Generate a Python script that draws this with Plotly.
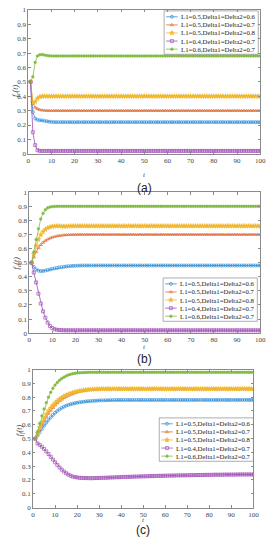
import plotly.graph_objects as go

t = list(range(1, 101))

names = ["L1=0.5,Delta1=Delta2=0.6", "L1=0.5,Delta1=Delta2=0.7",
         "L1=0.5,Delta1=Delta2=0.8", "L1=0.4,Delta1=Delta2=0.7",
         "L1=0.6,Delta1=Delta2=0.7"]

# ---------- panel (a) ----------
a_blue = [0.500, 0.290, 0.245, 0.236, 0.233, 0.232, 0.229, 0.226, 0.223, 0.221,
          0.22, 0.22, 0.22, 0.22, 0.22, 0.22, 0.22, 0.22, 0.22, 0.22,
          0.22, 0.22, 0.22, 0.22, 0.22, 0.22, 0.22, 0.22, 0.22, 0.22,
          0.22, 0.22, 0.22, 0.22, 0.22, 0.22, 0.22, 0.22, 0.22, 0.22,
          0.22, 0.22, 0.22, 0.22, 0.22, 0.22, 0.22, 0.22, 0.22, 0.22,
          0.22, 0.22, 0.22, 0.22, 0.22, 0.22, 0.22, 0.22, 0.22, 0.22,
          0.22, 0.22, 0.22, 0.22, 0.22, 0.22, 0.22, 0.22, 0.22, 0.22,
          0.22, 0.22, 0.22, 0.22, 0.22, 0.22, 0.22, 0.22, 0.22, 0.22,
          0.22, 0.22, 0.22, 0.22, 0.22, 0.22, 0.22, 0.22, 0.22, 0.22,
          0.22, 0.22, 0.22, 0.22, 0.22, 0.22, 0.22, 0.22, 0.22, 0.22]
a_orange = [0.500, 0.350, 0.322, 0.312, 0.306, 0.303, 0.301, 0.300, 0.300, 0.300,
            0.30, 0.30, 0.30, 0.30, 0.30, 0.30, 0.30, 0.30, 0.30, 0.30,
            0.30, 0.30, 0.30, 0.30, 0.30, 0.30, 0.30, 0.30, 0.30, 0.30,
            0.30, 0.30, 0.30, 0.30, 0.30, 0.30, 0.30, 0.30, 0.30, 0.30,
            0.30, 0.30, 0.30, 0.30, 0.30, 0.30, 0.30, 0.30, 0.30, 0.30,
            0.30, 0.30, 0.30, 0.30, 0.30, 0.30, 0.30, 0.30, 0.30, 0.30,
            0.30, 0.30, 0.30, 0.30, 0.30, 0.30, 0.30, 0.30, 0.30, 0.30,
            0.30, 0.30, 0.30, 0.30, 0.30, 0.30, 0.30, 0.30, 0.30, 0.30,
            0.30, 0.30, 0.30, 0.30, 0.30, 0.30, 0.30, 0.30, 0.30, 0.30,
            0.30, 0.30, 0.30, 0.30, 0.30, 0.30, 0.30, 0.30, 0.30, 0.30]
a_yellow = [0.500, 0.355, 0.362, 0.385, 0.396, 0.400, 0.400, 0.400, 0.400, 0.400,
            0.40, 0.40, 0.40, 0.40, 0.40, 0.40, 0.40, 0.40, 0.40, 0.40,
            0.40, 0.40, 0.40, 0.40, 0.40, 0.40, 0.40, 0.40, 0.40, 0.40,
            0.40, 0.40, 0.40, 0.40, 0.40, 0.40, 0.40, 0.40, 0.40, 0.40,
            0.40, 0.40, 0.40, 0.40, 0.40, 0.40, 0.40, 0.40, 0.40, 0.40,
            0.40, 0.40, 0.40, 0.40, 0.40, 0.40, 0.40, 0.40, 0.40, 0.40,
            0.40, 0.40, 0.40, 0.40, 0.40, 0.40, 0.40, 0.40, 0.40, 0.40,
            0.40, 0.40, 0.40, 0.40, 0.40, 0.40, 0.40, 0.40, 0.40, 0.40,
            0.40, 0.40, 0.40, 0.40, 0.40, 0.40, 0.40, 0.40, 0.40, 0.40,
            0.40, 0.40, 0.40, 0.40, 0.40, 0.40, 0.40, 0.40, 0.40, 0.40]
a_purple = [0.500, 0.150, 0.060, 0.025, 0.020, 0.020, 0.020, 0.020, 0.020, 0.020,
            0.02, 0.02, 0.02, 0.02, 0.02, 0.02, 0.02, 0.02, 0.02, 0.02,
            0.02, 0.02, 0.02, 0.02, 0.02, 0.02, 0.02, 0.02, 0.02, 0.02,
            0.02, 0.02, 0.02, 0.02, 0.02, 0.02, 0.02, 0.02, 0.02, 0.02,
            0.02, 0.02, 0.02, 0.02, 0.02, 0.02, 0.02, 0.02, 0.02, 0.02,
            0.02, 0.02, 0.02, 0.02, 0.02, 0.02, 0.02, 0.02, 0.02, 0.02,
            0.02, 0.02, 0.02, 0.02, 0.02, 0.02, 0.02, 0.02, 0.02, 0.02,
            0.02, 0.02, 0.02, 0.02, 0.02, 0.02, 0.02, 0.02, 0.02, 0.02,
            0.02, 0.02, 0.02, 0.02, 0.02, 0.02, 0.02, 0.02, 0.02, 0.02,
            0.02, 0.02, 0.02, 0.02, 0.02, 0.02, 0.02, 0.02, 0.02, 0.02]
a_green = [0.500, 0.535, 0.635, 0.680, 0.688, 0.690, 0.686, 0.683, 0.681, 0.680,
           0.68, 0.68, 0.68, 0.68, 0.68, 0.68, 0.68, 0.68, 0.68, 0.68,
           0.68, 0.68, 0.68, 0.68, 0.68, 0.68, 0.68, 0.68, 0.68, 0.68,
           0.68, 0.68, 0.68, 0.68, 0.68, 0.68, 0.68, 0.68, 0.68, 0.68,
           0.68, 0.68, 0.68, 0.68, 0.68, 0.68, 0.68, 0.68, 0.68, 0.68,
           0.68, 0.68, 0.68, 0.68, 0.68, 0.68, 0.68, 0.68, 0.68, 0.68,
           0.68, 0.68, 0.68, 0.68, 0.68, 0.68, 0.68, 0.68, 0.68, 0.68,
           0.68, 0.68, 0.68, 0.68, 0.68, 0.68, 0.68, 0.68, 0.68, 0.68,
           0.68, 0.68, 0.68, 0.68, 0.68, 0.68, 0.68, 0.68, 0.68, 0.68,
           0.68, 0.68, 0.68, 0.68, 0.68, 0.68, 0.68, 0.68, 0.68, 0.68]

# ---------- panel (b) ----------
b_blue = [0.500, 0.470, 0.452, 0.443, 0.440, 0.441, 0.444, 0.448, 0.452, 0.456,
          0.460, 0.463, 0.466, 0.469, 0.471, 0.473, 0.475, 0.476, 0.477, 0.478,
          0.479, 0.479, 0.48, 0.48, 0.48, 0.48, 0.48, 0.48, 0.48, 0.48,
          0.48, 0.48, 0.48, 0.48, 0.48, 0.48, 0.48, 0.48, 0.48, 0.48,
          0.48, 0.48, 0.48, 0.48, 0.48, 0.48, 0.48, 0.48, 0.48, 0.48,
          0.48, 0.48, 0.48, 0.48, 0.48, 0.48, 0.48, 0.48, 0.48, 0.48,
          0.48, 0.48, 0.48, 0.48, 0.48, 0.48, 0.48, 0.48, 0.48, 0.48,
          0.48, 0.48, 0.48, 0.48, 0.48, 0.48, 0.48, 0.48, 0.48, 0.48,
          0.48, 0.48, 0.48, 0.48, 0.48, 0.48, 0.48, 0.48, 0.48, 0.48,
          0.48, 0.48, 0.48, 0.48, 0.48, 0.48, 0.48, 0.48, 0.48, 0.48]
b_orange = [0.500, 0.540, 0.577, 0.605, 0.627, 0.643, 0.656, 0.666, 0.674, 0.680,
            0.685, 0.689, 0.692, 0.694, 0.696, 0.697, 0.698, 0.699, 0.699, 0.700,
            0.70, 0.70, 0.70, 0.70, 0.70, 0.70, 0.70, 0.70, 0.70, 0.70,
            0.70, 0.70, 0.70, 0.70, 0.70, 0.70, 0.70, 0.70, 0.70, 0.70,
            0.70, 0.70, 0.70, 0.70, 0.70, 0.70, 0.70, 0.70, 0.70, 0.70,
            0.70, 0.70, 0.70, 0.70, 0.70, 0.70, 0.70, 0.70, 0.70, 0.70,
            0.70, 0.70, 0.70, 0.70, 0.70, 0.70, 0.70, 0.70, 0.70, 0.70,
            0.70, 0.70, 0.70, 0.70, 0.70, 0.70, 0.70, 0.70, 0.70, 0.70,
            0.70, 0.70, 0.70, 0.70, 0.70, 0.70, 0.70, 0.70, 0.70, 0.70,
            0.70, 0.70, 0.70, 0.70, 0.70, 0.70, 0.70, 0.70, 0.70, 0.70]
b_yellow = [0.500, 0.560, 0.620, 0.665, 0.697, 0.720, 0.736, 0.746, 0.753, 0.757,
            0.759, 0.760, 0.760, 0.759, 0.758, 0.758, 0.759, 0.760, 0.76, 0.76,
            0.76, 0.76, 0.76, 0.76, 0.76, 0.76, 0.76, 0.76, 0.76, 0.76,
            0.76, 0.76, 0.76, 0.76, 0.76, 0.76, 0.76, 0.76, 0.76, 0.76,
            0.76, 0.76, 0.76, 0.76, 0.76, 0.76, 0.76, 0.76, 0.76, 0.76,
            0.76, 0.76, 0.76, 0.76, 0.76, 0.76, 0.76, 0.76, 0.76, 0.76,
            0.76, 0.76, 0.76, 0.76, 0.76, 0.76, 0.76, 0.76, 0.76, 0.76,
            0.76, 0.76, 0.76, 0.76, 0.76, 0.76, 0.76, 0.76, 0.76, 0.76,
            0.76, 0.76, 0.76, 0.76, 0.76, 0.76, 0.76, 0.76, 0.76, 0.76,
            0.76, 0.76, 0.76, 0.76, 0.76, 0.76, 0.76, 0.76, 0.76, 0.76]
b_purple = [0.500, 0.430, 0.360, 0.280, 0.210, 0.155, 0.110, 0.075, 0.050, 0.036,
            0.028, 0.024, 0.022, 0.021, 0.020, 0.02, 0.02, 0.02, 0.02, 0.02,
            0.02, 0.02, 0.02, 0.02, 0.02, 0.02, 0.02, 0.02, 0.02, 0.02,
            0.02, 0.02, 0.02, 0.02, 0.02, 0.02, 0.02, 0.02, 0.02, 0.02,
            0.02, 0.02, 0.02, 0.02, 0.02, 0.02, 0.02, 0.02, 0.02, 0.02,
            0.02, 0.02, 0.02, 0.02, 0.02, 0.02, 0.02, 0.02, 0.02, 0.02,
            0.02, 0.02, 0.02, 0.02, 0.02, 0.02, 0.02, 0.02, 0.02, 0.02,
            0.02, 0.02, 0.02, 0.02, 0.02, 0.02, 0.02, 0.02, 0.02, 0.02,
            0.02, 0.02, 0.02, 0.02, 0.02, 0.02, 0.02, 0.02, 0.02, 0.02,
            0.02, 0.02, 0.02, 0.02, 0.02, 0.02, 0.02, 0.02, 0.02, 0.02]
b_green = [0.500, 0.575, 0.665, 0.740, 0.810, 0.850, 0.875, 0.889, 0.895, 0.898,
           0.899, 0.90, 0.90, 0.90, 0.90, 0.90, 0.90, 0.90, 0.90, 0.90,
           0.90, 0.90, 0.90, 0.90, 0.90, 0.90, 0.90, 0.90, 0.90, 0.90,
           0.90, 0.90, 0.90, 0.90, 0.90, 0.90, 0.90, 0.90, 0.90, 0.90,
           0.90, 0.90, 0.90, 0.90, 0.90, 0.90, 0.90, 0.90, 0.90, 0.90,
           0.90, 0.90, 0.90, 0.90, 0.90, 0.90, 0.90, 0.90, 0.90, 0.90,
           0.90, 0.90, 0.90, 0.90, 0.90, 0.90, 0.90, 0.90, 0.90, 0.90,
           0.90, 0.90, 0.90, 0.90, 0.90, 0.90, 0.90, 0.90, 0.90, 0.90,
           0.90, 0.90, 0.90, 0.90, 0.90, 0.90, 0.90, 0.90, 0.90, 0.90,
           0.90, 0.90, 0.90, 0.90, 0.90, 0.90, 0.90, 0.90, 0.90, 0.90]

# ---------- panel (c) ----------
c_blue = [0.500, 0.520, 0.545, 0.570, 0.594, 0.615, 0.635, 0.654, 0.671, 0.687,
          0.700, 0.712, 0.722, 0.731, 0.738, 0.744, 0.749, 0.753, 0.757, 0.760,
          0.763, 0.765, 0.767, 0.769, 0.771, 0.772, 0.773, 0.774, 0.775, 0.776,
          0.777, 0.777, 0.778, 0.778, 0.779, 0.779, 0.779, 0.780, 0.78, 0.78,
          0.78, 0.78, 0.78, 0.78, 0.78, 0.78, 0.78, 0.78, 0.78, 0.78,
          0.78, 0.78, 0.78, 0.78, 0.78, 0.78, 0.78, 0.78, 0.78, 0.78,
          0.78, 0.78, 0.78, 0.78, 0.78, 0.78, 0.78, 0.78, 0.78, 0.78,
          0.78, 0.78, 0.78, 0.78, 0.78, 0.78, 0.78, 0.78, 0.78, 0.78,
          0.78, 0.78, 0.78, 0.78, 0.78, 0.78, 0.78, 0.78, 0.78, 0.78,
          0.78, 0.78, 0.78, 0.78, 0.78, 0.78, 0.78, 0.78, 0.78, 0.78]
c_orange = [0.500, 0.530, 0.565, 0.598, 0.628, 0.657, 0.682, 0.704, 0.724, 0.742,
            0.758, 0.772, 0.784, 0.795, 0.804, 0.812, 0.819, 0.825, 0.831, 0.836,
            0.840, 0.844, 0.847, 0.850, 0.852, 0.854, 0.855, 0.856, 0.857, 0.858,
            0.859, 0.859, 0.860, 0.86, 0.86, 0.86, 0.86, 0.86, 0.86, 0.86,
            0.86, 0.86, 0.86, 0.86, 0.86, 0.86, 0.86, 0.86, 0.86, 0.86,
            0.86, 0.86, 0.86, 0.86, 0.86, 0.86, 0.86, 0.86, 0.86, 0.86,
            0.86, 0.86, 0.86, 0.86, 0.86, 0.86, 0.86, 0.86, 0.86, 0.86,
            0.86, 0.86, 0.86, 0.86, 0.86, 0.86, 0.86, 0.86, 0.86, 0.86,
            0.86, 0.86, 0.86, 0.86, 0.86, 0.86, 0.86, 0.86, 0.86, 0.86,
            0.86, 0.86, 0.86, 0.86, 0.86, 0.86, 0.86, 0.86, 0.86, 0.86]
c_yellow = [0.500, 0.540, 0.580, 0.615, 0.647, 0.676, 0.701, 0.722, 0.741, 0.758,
            0.773, 0.786, 0.797, 0.807, 0.815, 0.822, 0.828, 0.833, 0.838, 0.842,
            0.845, 0.848, 0.851, 0.853, 0.855, 0.856, 0.857, 0.858, 0.859, 0.859,
            0.860, 0.86, 0.86, 0.86, 0.86, 0.86, 0.86, 0.86, 0.86, 0.86,
            0.86, 0.86, 0.86, 0.86, 0.86, 0.86, 0.86, 0.86, 0.86, 0.86,
            0.86, 0.86, 0.86, 0.86, 0.86, 0.86, 0.86, 0.86, 0.86, 0.86,
            0.86, 0.86, 0.86, 0.86, 0.86, 0.86, 0.86, 0.86, 0.86, 0.86,
            0.86, 0.86, 0.86, 0.86, 0.86, 0.86, 0.86, 0.86, 0.86, 0.86,
            0.86, 0.86, 0.86, 0.86, 0.86, 0.86, 0.86, 0.86, 0.86, 0.86,
            0.86, 0.86, 0.86, 0.86, 0.86, 0.86, 0.86, 0.86, 0.86, 0.86]
c_purple = [0.500, 0.465, 0.455, 0.441, 0.425, 0.407, 0.388, 0.368, 0.348, 0.328,
            0.309, 0.291, 0.275, 0.261, 0.249, 0.239, 0.231, 0.225, 0.221, 0.218,
            0.216, 0.215, 0.214, 0.214, 0.213, 0.213, 0.213, 0.214, 0.214, 0.215,
            0.215, 0.216, 0.216, 0.217, 0.218, 0.218, 0.219, 0.220, 0.220, 0.221,
            0.222, 0.222, 0.223, 0.223, 0.224, 0.224, 0.225, 0.225, 0.226, 0.226,
            0.227, 0.227, 0.228, 0.228, 0.229, 0.229, 0.230, 0.230, 0.230, 0.231,
            0.231, 0.232, 0.232, 0.232, 0.233, 0.233, 0.233, 0.234, 0.234, 0.234,
            0.235, 0.235, 0.235, 0.236, 0.236, 0.236, 0.236, 0.237, 0.237, 0.237,
            0.237, 0.238, 0.238, 0.238, 0.238, 0.238, 0.239, 0.239, 0.239, 0.239,
            0.239, 0.239, 0.240, 0.240, 0.240, 0.240, 0.240, 0.240, 0.240, 0.240]
c_green = [0.500, 0.550, 0.610, 0.665, 0.715, 0.760, 0.800, 0.835, 0.865, 0.888,
           0.907, 0.922, 0.935, 0.945, 0.954, 0.961, 0.966, 0.970, 0.973, 0.975,
           0.977, 0.978, 0.979, 0.979, 0.980, 0.98, 0.98, 0.98, 0.98, 0.98,
           0.98, 0.98, 0.98, 0.98, 0.98, 0.98, 0.98, 0.98, 0.98, 0.98,
           0.98, 0.98, 0.98, 0.98, 0.98, 0.98, 0.98, 0.98, 0.98, 0.98,
           0.98, 0.98, 0.98, 0.98, 0.98, 0.98, 0.98, 0.98, 0.98, 0.98,
           0.98, 0.98, 0.98, 0.98, 0.98, 0.98, 0.98, 0.98, 0.98, 0.98,
           0.98, 0.98, 0.98, 0.98, 0.98, 0.98, 0.98, 0.98, 0.98, 0.98,
           0.98, 0.98, 0.98, 0.98, 0.98, 0.98, 0.98, 0.98, 0.98, 0.98,
           0.98, 0.98, 0.98, 0.98, 0.98, 0.98, 0.98, 0.98, 0.98, 0.98]

panels = [
    [a_blue, a_orange, a_yellow, a_purple, a_green],
    [b_blue, b_orange, b_yellow, b_purple, b_green],
    [c_blue, c_orange, c_yellow, c_purple, c_green],
]
ylabels = ["<i>f<sub>c</sub>(t)</i>", "<i>f<sub>c</sub>(t)</i>", "<i>f<sub>f</sub>(t)</i>"]
panel_tags = ["(a)", "(b)", "(c)"]

colors = ["#2f8fd8", "#e0703c", "#f0b830", "#a050b8", "#84bb45"]
symbols = ["circle-open", "triangle-up-open", "star", "square-open", "circle"]
msizes = [3, 3, 3.5, 3, 2.5]

W, H = 273, 550
# plot-area pixel boxes (left, right, top, bottom)
boxes = [(27, 266, 6, 152), (28, 266, 191, 334), (32, 259, 371, 511)]
# legend boxes: (left, right, top)
legend_boxes = [(167, 264, 7), (166, 263, 278), (162, 259, 420)]
tlabel_y = [168, 348, 529]
tag_y = [179, 360, 542]
ylab_x = [8, 8, 11]

serif = "Liberation Serif"
axis_col = "#8a8a8a"

fig = go.Figure()
layout = dict(width=W, height=H, margin=dict(l=0, r=0, t=0, b=0),
              paper_bgcolor="white", plot_bgcolor="rgba(0,0,0,0)", showlegend=False,
              annotations=[], shapes=[])

for p in range(3):
    sfx = "" if p == 0 else str(p + 1)
    for k in range(5):
        fig.add_trace(go.Scatter(
            x=t, y=panels[p][k], name=names[k], mode="lines+markers",
            xaxis="x" + sfx, yaxis="y" + sfx,
            line=dict(color=colors[k], width=0.8),
            marker=dict(symbol=symbols[k], size=msizes[k], color=colors[k],
                        line=dict(width=0.7, color=colors[k])),
        ))
    l, r, tp, bt = boxes[p]
    ax = dict(showline=True, linecolor=axis_col, linewidth=0.8, mirror="ticks",
              ticks="inside", ticklen=2.5, tickcolor=axis_col, tickwidth=0.8,
              showgrid=False, zeroline=False,
              tickfont=dict(family=serif, size=7, color="#444"))
    layout["xaxis" + sfx] = dict(ax, domain=[l / W, r / W], range=[0, 100], dtick=10,
                                 anchor="y" + sfx)
    layout["yaxis" + sfx] = dict(ax, domain=[1 - bt / H, 1 - tp / H], range=[0, 1],
                                 dtick=0.1, anchor="x" + sfx)
    layout["annotations"].append(dict(
        text="<i>t</i>", x=(l + r) / 2 / W, y=1 - tlabel_y[p] / H, xref="paper", yref="paper",
        showarrow=False, borderpad=0, font=dict(family=serif, size=7, color="#444")))
    layout["annotations"].append(dict(
        text=ylabels[p], x=ylab_x[p] / W, y=1 - (tp + bt) / 2 / H, xref="paper", yref="paper",
        showarrow=False, textangle=-90, font=dict(family=serif, size=8, color="#444")))
    layout["annotations"].append(dict(
        text=panel_tags[p], x=(l + r) / 2 / W, y=1 - tag_y[p] / H, xref="paper", yref="paper",
        showarrow=False, borderpad=0, font=dict(family="Liberation Sans", size=12, color="#222")))

    # hand-built compact legend (MATLAB style)
    ll, lr, lt = legend_boxes[p]
    lb = lt + 44
    layout["shapes"].append(dict(type="rect", xref="paper", yref="paper",
                                 x0=ll / W, x1=lr / W, y0=1 - lb / H, y1=1 - lt / H,
                                 line=dict(color=axis_col, width=0.7), fillcolor="rgba(0,0,0,0)"))
    for k in range(5):
        ry = lt + 6 + k * 8.2
        fig.add_trace(go.Scatter(
            x=[ll + 2, ll + 14], y=[ry, ry], mode="lines", xaxis="x4", yaxis="y4",
            line=dict(color=colors[k], width=0.8), hoverinfo="skip"))
        fig.add_trace(go.Scatter(
            x=[ll + 8], y=[ry], mode="markers", xaxis="x4", yaxis="y4",
            marker=dict(symbol=symbols[k], size=msizes[k], color=colors[k],
                        line=dict(width=0.7, color=colors[k])), hoverinfo="skip"))
        layout["annotations"].append(dict(
            text=names[k], x=(ll + 16) / W, y=1 - ry / H, xref="paper", yref="paper",
            xanchor="left", yanchor="middle", showarrow=False, borderpad=0,
            font=dict(family=serif, size=6.8, color="#222")))

# invisible pixel-space overlay used only for legend samples
layout["xaxis4"] = dict(domain=[0, 1], range=[0, W], visible=False, anchor="y4", fixedrange=True)
layout["yaxis4"] = dict(domain=[0, 1], range=[H, 0], visible=False, anchor="x4", fixedrange=True)

fig.update_layout(**layout)
fig.write_html("out.html", config={"displayModeBar": False},
               post_script=["document.body.style.margin='0';"])
